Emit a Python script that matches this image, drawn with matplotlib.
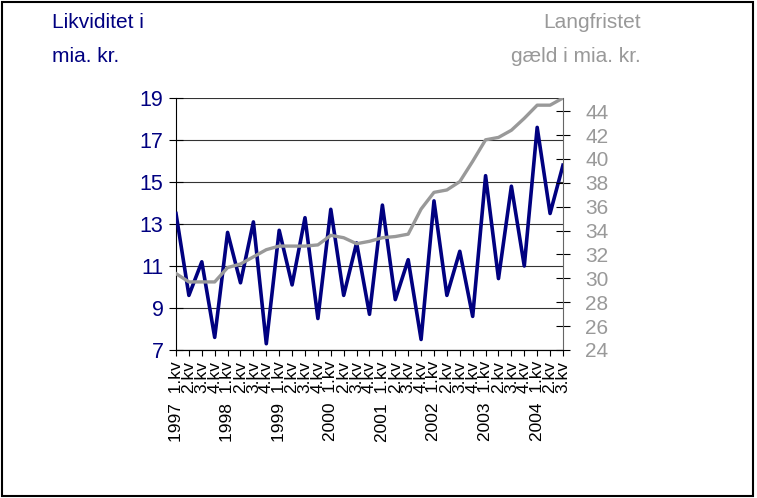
import numpy as np
import matplotlib
matplotlib.use('Agg')
import matplotlib.pyplot as plt
from matplotlib.patches import Rectangle

# quarterly data 1997 1.kv - 2004 3.kv
labels = ['1997  1.kv', '2.kv', '3.kv', '4.kv',
          '1998  1.kv', '2.kv', '3.kv', '4.kv',
          '1999  1.kv', '2.kv', '3.kv', '4.kv',
          '2000  1.kv', '2.kv', '3.kv', '4.kv',
          '2001  1.kv', '2.kv', '3.kv', '4.kv',
          '2002  1.kv', '2.kv', '3.kv', '4.kv',
          '2003  1.kv', '2.kv', '3.kv', '4.kv',
          '2004  1.kv', '2.kv', '3.kv']

likviditet = [13.5, 9.6, 11.2, 7.6, 12.6, 10.2, 13.1, 7.3,
              12.7, 10.1, 13.3, 8.5, 13.7, 9.6, 12.1, 8.7,
              13.9, 9.4, 11.3, 7.5, 14.1, 9.6, 11.7, 8.6,
              15.3, 10.4, 14.8, 11.0, 17.6, 13.5, 15.8]

gaeld = [30.4, 29.7, 29.7, 29.7, 30.9, 31.2, 31.8, 32.4,
         32.7, 32.7, 32.7, 32.8, 33.6, 33.4, 32.9, 33.1,
         33.4, 33.5, 33.7, 35.8, 37.2, 37.4, 38.1, 39.8,
         41.6, 41.8, 42.4, 43.4, 44.5, 44.5, 45.1]

navy = '#000080'
grey = '#999999'

plt.rcParams['font.family'] = ['Liberation Sans', 'DejaVu Sans']

fig = plt.figure(figsize=(7.57, 4.98), dpi=100)
ax = fig.add_axes([0.2325, 0.2972, 0.5112, 0.506])

x = np.arange(len(labels))
ax.plot(x, likviditet, color=navy, lw=2.6, zorder=3)

ax.set_xlim(0, len(labels) - 1)
ax.set_ylim(7, 19)
ax.set_yticks(np.arange(7, 20, 2))
ax.grid(axis='y', color='#333333', lw=0.8)
ax.set_axisbelow(True)
ax.tick_params(axis='y', direction='inout', length=10, width=0.8,
               labelcolor=navy, labelsize=15.5, pad=4)
ax.set_xticks(x)
ax.set_xticklabels(labels, rotation=90, fontsize=12.5)
ax.tick_params(axis='x', direction='out', length=4, width=0.8, pad=4)
ax.spines['top'].set_visible(False)
ax.spines['right'].set_visible(False)

ax2 = ax.twinx()
ax2.plot(x, gaeld, color=grey, lw=2.4, zorder=3)
ax2.set_ylim(24, 45.1)
ax2.set_yticks(np.arange(24, 45, 2))
ax2.tick_params(axis='y', direction='inout', length=10, width=0.8,
                labelcolor=grey, labelsize=15, pad=11)
ax2.spines['top'].set_visible(False)
ax2.spines['left'].set_visible(False)
ax2.spines['right'].set_color('#666666')

fig.text(52 / 757, 1 - 22 / 498, 'Likviditet i', color=navy, fontsize=15, va='center')
fig.text(52 / 757, 1 - 57 / 498, 'mia. kr.', color=navy, fontsize=15, va='center')
fig.text(641 / 757, 1 - 22 / 498, 'Langfristet', color=grey, fontsize=15,
         va='center', ha='right')
fig.text(641 / 757, 1 - 57 / 498, 'gæld i mia. kr.', color=grey, fontsize=15,
         va='center', ha='right')

fig.add_artist(Rectangle((2 / 757, 2 / 498), 751 / 757, 494 / 498,
                         transform=fig.transFigure, fill=False,
                         ec='black', lw=1.5))

fig.savefig('out.png', dpi=100)
